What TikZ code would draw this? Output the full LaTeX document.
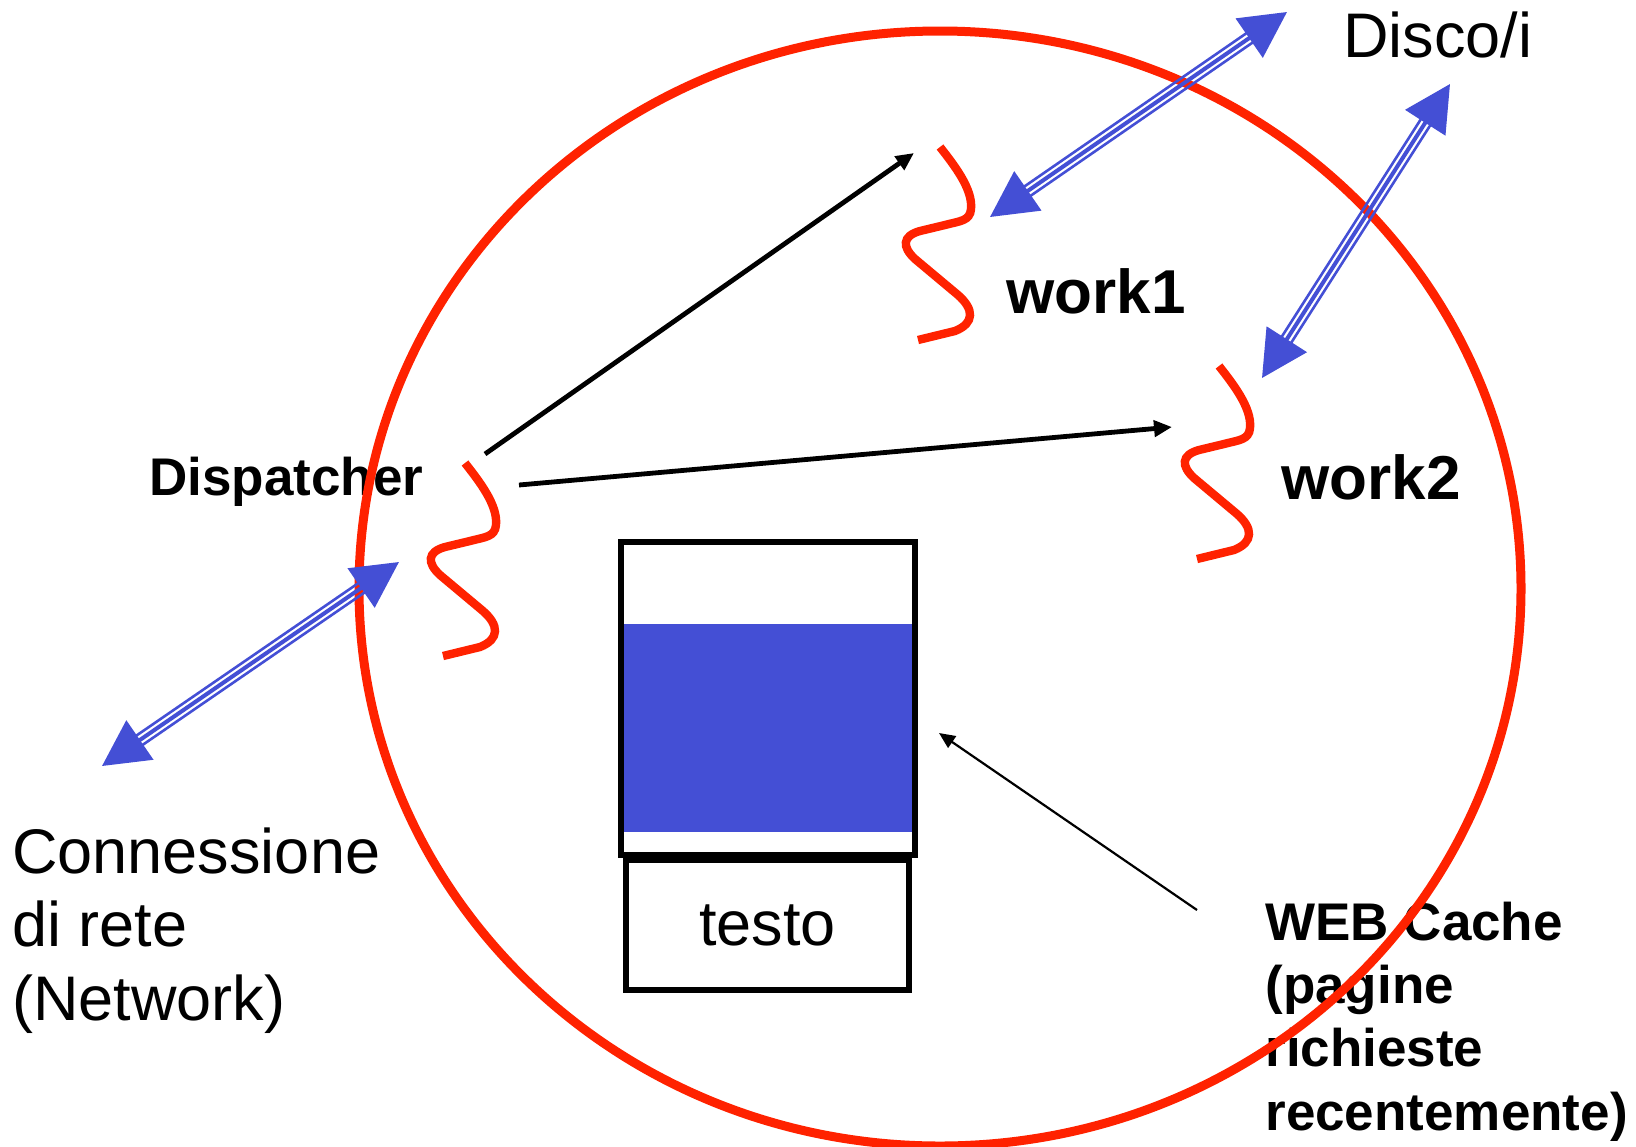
\documentclass[tikz,border=0pt]{standalone}
\usepackage{fontspec}
\setmainfont{Liberation Sans}
\usetikzlibrary{arrows.meta,calc}

\definecolor{ringred}{RGB}{255,34,0}
\definecolor{linkblue}{RGB}{68,79,213}

\tikzset{
  bigtext/.style={font=\fontsize{31.5}{36.75}\selectfont, inner sep=0pt, anchor=base west, align=left},
  boldtext/.style={font=\bfseries\fontsize{26.5}{31.65}\selectfont, inner sep=0pt, anchor=base west, align=left},
  worklabel/.style={font=\bfseries\fontsize{31}{36}\selectfont, inner sep=0pt, anchor=base west},
  flow/.style={line width=2.4pt, -{Triangle[length=9pt,width=8pt]}},
  hint/.style={line width=1.1pt, -{Triangle[length=8pt,width=7pt]}},
  thread/.pic={
    \draw[ringred, line width=4.2pt]
      (0,0) .. controls (14,18) and (33,42) .. (31,62)
      .. controls (30,74) and (20,74) .. (5,78) -- (-20,84)
      .. controls (-38,89) and (-38,100) .. (-25,112) -- (18,148)
      .. controls (34,162) and (35,176) .. (15,184) -- (-22,193);
  }
}

\newcommand{\duplex}[2]{%
  \draw[linkblue, line width=2pt,
    {Triangle[length=23pt,width=23.5pt]}-{Triangle[length=23pt,width=23.5pt]}]
    (#1) -- (#2);
  \draw[linkblue, line width=1.3pt, shorten <=19pt, shorten >=19pt]
    ($(#1)!2.8pt!90:(#2)$) -- ($(#2)!2.8pt!-90:(#1)$);
  \draw[linkblue, line width=1.3pt, shorten <=19pt, shorten >=19pt]
    ($(#1)!2.8pt!-90:(#2)$) -- ($(#2)!2.8pt!90:(#1)$);
}

\begin{document}
\begin{tikzpicture}[x=0.5pt,y=-0.5pt]
  \useasboundingbox (0,0) rectangle (1636,1146);

  \node[bigtext] (disco) at (1343,57) {Disco/i};
  \node[bigtext] (network) at (12,1020) {Connessione\\di rete\\(Network)};
  \node[boldtext] (dispatcher) at (149,495) {Dispatcher};
  \node[worklabel] (work1) at (1006,313) {work1};
  \node[worklabel] (work2) at (1281,499) {work2};
  \node[boldtext] (webcache) at (1265,1130) {WEB Cache\\(pagine\\richieste\\recentemente)};

  \draw[ringred, line width=4.5pt] (940,588.5) ellipse [x radius=581, y radius=557.5];

  \pic at (465,463) {thread};
  \pic at (940,147) {thread};
  \pic at (1219,366) {thread};

  \coordinate (netend) at (102,766);
  \coordinate (netdisp) at (399,562);
  \coordinate (disk1) at (1287,12);
  \coordinate (disk1w) at (990,217);
  \coordinate (disk2) at (1450,84);
  \coordinate (disk2w) at (1262,378);
  \duplex{netend}{netdisp}
  \duplex{disk1w}{disk1}
  \duplex{disk2w}{disk2}

  \coordinate (disp1) at (485,454);
  \coordinate (disp2) at (519,485);
  \coordinate (tow1) at (914,153);
  \coordinate (tow2) at (1172,427);
  \draw[flow] (disp1) -- (tow1);
  \draw[flow] (disp2) -- (tow2);

  \node[draw, line width=3pt, minimum width=147pt, minimum height=156.5pt] (cache) at (768,698.5) {};
  \fill[linkblue] (624,624) rectangle (912,832);
  \node[draw, line width=3pt, minimum width=141.5pt, minimum height=65pt,
    font=\fontsize{31.5}{36.75}\selectfont] (testo) at (767.5,925) {testo};

  \coordinate (cachetail) at (1197,910);
  \coordinate (cachetip) at (939,733);
  \draw[hint] (cachetail) -- (cachetip);
\end{tikzpicture}
\end{document}
